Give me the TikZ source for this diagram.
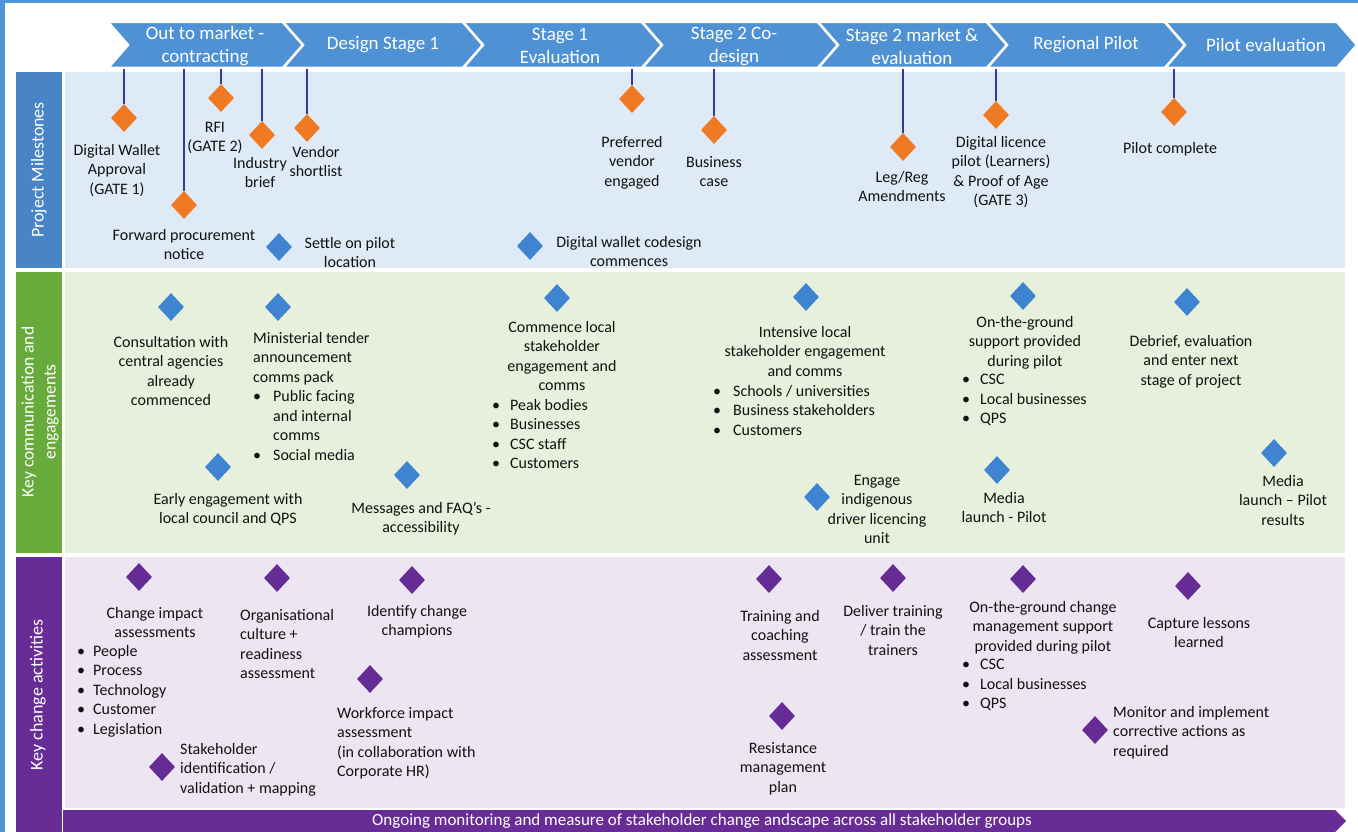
\documentclass[tikz,border=0pt]{standalone}
\usepackage{fontspec}
\setmainfont{Carlito}
\usetikzlibrary{shapes.geometric}
\pgfdeclarelayer{lanelayer}
\pgfdeclarelayer{edgelayer}
\pgfdeclarelayer{nodelayer}
\pgfsetlayers{lanelayer,edgelayer,nodelayer,main}
\definecolor{frameblue}{RGB}{79,148,214}
\definecolor{chevblue}{RGB}{78,145,212}
\definecolor{msstrip}{RGB}{72,132,198}
\definecolor{commstrip}{RGB}{104,170,60}
\definecolor{chgstrip}{RGB}{104,44,150}
\definecolor{mslane}{RGB}{222,234,246}
\definecolor{commlane}{RGB}{231,240,220}
\definecolor{chglane}{RGB}{237,229,242}
\definecolor{msorange}{RGB}{240,122,36}
\definecolor{commblue}{RGB}{62,132,208}
\definecolor{chgpurple}{RGB}{102,44,150}
\definecolor{linenavy}{RGB}{52,58,150}
\definecolor{textgray}{RGB}{18,18,18}
\tikzstyle{orangevertex}=[diamond, fill=msorange, inner sep=0pt, minimum width=26pt, minimum height=28pt]
\tikzstyle{bluevertex}=[diamond, fill=commblue, inner sep=0pt, minimum width=26pt, minimum height=28pt]
\tikzstyle{purplevertex}=[diamond, fill=chgpurple, inner sep=0pt, minimum width=26pt, minimum height=28pt]
\tikzstyle{stemedge}=[draw=linenavy, line width=2pt]
\tikzstyle{txt}=[font=\fontsize{16}{19.5}\selectfont, text=textgray, align=center, inner sep=0pt, anchor=north]
\tikzstyle{txtleft}=[txt, align=left, anchor=north west]
\tikzstyle{chevron}=[fill=chevblue, draw=white, line width=2.5pt, line join=miter]
\tikzstyle{phase}=[font=\fontsize{19}{23}\selectfont, text=white, align=center, inner sep=0pt]
\tikzstyle{lanetitle}=[font=\fontsize{18}{22}\selectfont, text=white, align=center, inner sep=0pt, rotate=90]
\newcommand{\bul}{\makebox[18pt][l]{\textbullet}}
\newcommand{\bsp}{\hspace*{18pt}}

\begin{document}
\begin{tikzpicture}[x=1pt, y=-1pt]
	\useasboundingbox (0,0) rectangle (1358,832);
	\begin{pgfonlayer}{lanelayer}

	%frame
		\fill[frameblue] (0,0) rectangle (1358,3);
		\fill[frameblue] (0,0) rectangle (5,832);

	%lanes
		\fill[msstrip] (16,72) rectangle (62,268);
		\fill[commstrip] (16,272) rectangle (62,553);
		\fill[chgstrip] (16,557) rectangle (62,832);
		\fill[mslane] (65,72) rectangle (1345,268);
		\fill[commlane] (65,272) rectangle (1345,553);
		\fill[chglane] (65,557) rectangle (1345,808);
		\fill[chgstrip] (63,810) -- (1335,810) -- (1346,821) -- (1335,832) -- (63,832) -- cycle;

	%phases
		\draw[chevron] (108,22) -- (283,22) -- (303,45) -- (283,68) -- (108,68) -- (128,45) -- cycle;
		\draw[chevron] (283,22) -- (463,22) -- (483,45) -- (463,68) -- (283,68) -- (303,45) -- cycle;
		\draw[chevron] (463,22) -- (642,22) -- (662,45) -- (642,68) -- (463,68) -- (483,45) -- cycle;
		\draw[chevron] (642,22) -- (818,22) -- (838,45) -- (818,68) -- (642,68) -- (662,45) -- cycle;
		\draw[chevron] (818,22) -- (987,22) -- (1007,45) -- (987,68) -- (818,68) -- (838,45) -- cycle;
		\draw[chevron] (987,22) -- (1165,22) -- (1185,45) -- (1165,68) -- (987,68) -- (1007,45) -- cycle;
		\draw[chevron] (1165,22) -- (1337,22) -- (1357,45) -- (1337,68) -- (1165,68) -- (1185,45) -- cycle;

	\end{pgfonlayer}
	\begin{pgfonlayer}{nodelayer}

	%phase names
		\node [style=phase] (ph1) at (205,46) {Out to market -\\contracting};
		\node [style=phase] (ph2) at (383,45) {Design Stage 1};
		\node [style=phase] (ph3) at (560,46) {Stage 1\\Evaluation};
		\node [style=phase] (ph4) at (734,46) {Stage 2 Co-\\design};
		\node [style=phase] (ph5) at (912,46) {Stage 2 market \&\\evaluation};
		\node [style=phase] (ph6) at (1086,45) {Regional Pilot};
		\node [style=phase] (ph7) at (1266,45) {Pilot evaluation};

	%lane titles
		\node [style=lanetitle] (lane1) at (39,170) {Project Milestones};
		\node [style=lanetitle, font=\fontsize{17.5}{22}\selectfont] (lane2) at (40,412) {Key communication and\\engagements};
		\node [style=lanetitle] (lane3) at (38,695) {Key change activities};
		\node [font=\fontsize{17}{20}\selectfont, text=white, inner sep=0pt] (bar) at (702,821) {Ongoing monitoring and measure of stakeholder change andscape across all stakeholder groups};

	%milestones
		\coordinate (t1) at (124,69);
		\coordinate (t2) at (221,69);
		\coordinate (t3) at (184,69);
		\coordinate (t4) at (262,69);
		\coordinate (t5) at (307,69);
		\coordinate (t6) at (632,69);
		\coordinate (t7) at (714,69);
		\coordinate (t8) at (903,69);
		\coordinate (t9) at (996,69);
		\coordinate (t10) at (1174,69);
		\node [style=orangevertex] (m1) at (124,118) {};
		\node [style=orangevertex] (m2) at (221,98) {};
		\node [style=orangevertex] (m3) at (184,205) {};
		\node [style=orangevertex] (m4) at (262,135) {};
		\node [style=orangevertex] (m5) at (307,128) {};
		\node [style=orangevertex] (m6) at (632,99) {};
		\node [style=orangevertex] (m7) at (714,130) {};
		\node [style=orangevertex] (m8) at (903,147) {};
		\node [style=orangevertex] (m9) at (996,115) {};
		\node [style=orangevertex] (m10) at (1174,112) {};
		\node [style=bluevertex] (m11) at (279,247) {};
		\node [style=bluevertex] (m12) at (530,246) {};
		\node [style=txt] (ml1) at (117,144) {Digital Wallet\\Approval\\(GATE 1)};
		\node [style=txt] (ml2) at (215,122) {RFI\\(GATE 2)};
		\node [style=txt] (ml3) at (184,229) {Forward procurement\\notice};
		\node [style=txt] (ml4) at (260,157) {Industry\\brief};
		\node [style=txt] (ml5) at (316,146) {Vendor\\shortlist};
		\node [style=txt] (ml6) at (632,136) {Preferred\\vendor\\engaged};
		\node [style=txt] (ml7) at (714,156) {Business\\case};
		\node [style=txt] (ml8) at (902,171) {Leg/Reg\\Amendments};
		\node [style=txt] (ml9) at (1001,136) {Digital licence\\pilot (Learners)\\\& Proof of Age\\(GATE 3)};
		\node [style=txt] (ml10) at (1170,142) {Pilot complete};
		\node [style=txt] (ml11) at (350,237) {Settle on pilot\\location};
		\node [style=txt] (ml12) at (629,236) {Digital wallet codesign\\commences};

	%communication
		\node [style=bluevertex] (c1) at (171,307) {};
		\node [style=bluevertex] (c2) at (278,307) {};
		\node [style=bluevertex] (c3) at (218,467) {};
		\node [style=bluevertex] (c4) at (407,475) {};
		\node [style=bluevertex] (c5) at (557,298) {};
		\node [style=bluevertex] (c6) at (806,297) {};
		\node [style=bluevertex] (c7) at (817,497) {};
		\node [style=bluevertex] (c8) at (1023,296) {};
		\node [style=bluevertex] (c9) at (997,470) {};
		\node [style=bluevertex] (c10) at (1187,302) {};
		\node [style=bluevertex] (c11) at (1274,453) {};
		\node [style=txt] (cl1) at (171,336) {Consultation with\\central agencies\\already\\commenced};
		\node [style=txtleft] (cl2) at (253,332) {Ministerial tender\\announcement\\comms pack\\\makebox[20pt][l]{\textbullet}Public facing\\\hspace*{20pt}and internal\\\hspace*{20pt}comms\\\makebox[20pt][l]{\textbullet}Social media};
		\node [style=txt] (cl3) at (228,493) {Early engagement with\\local council and QPS};
		\node [style=txt] (cl4) at (421,502) {Messages and FAQ’s -\\accessibility};
		\node [style=txt] (cl5) at (562,321) {Commence local\\stakeholder\\engagement and\\comms};
		\node [style=txtleft] (cb5) at (492,399) {\bul Peak bodies\\\bul Businesses\\\bul CSC staff\\\bul Customers};
		\node [style=txt] (cl6) at (805,326) {Intensive local\\stakeholder engagement\\and comms};
		\node [style=txtleft] (cb6) at (713,385) {\makebox[20pt][l]{\textbullet}Schools / universities\\\makebox[20pt][l]{\textbullet}Business stakeholders\\\makebox[20pt][l]{\textbullet}Customers};
		\node [style=txt] (cl7) at (877,475) {Engage\\indigenous\\driver licencing\\unit};
		\node [style=txt] (cl8) at (1025,316) {On-the-ground\\support provided\\during pilot};
		\node [style=txtleft] (cb8) at (962,374) {\bul CSC\\\bul Local businesses\\\bul QPS};
		\node [style=txt] (cl9) at (1004,492) {Media\\launch - Pilot};
		\node [style=txt] (cl10) at (1191,335) {Debrief, evaluation\\and enter next\\stage of project};
		\node [style=txt] (cl11) at (1283,475) {Media\\launch – Pilot\\results};

	%change activities
		\node [style=purplevertex] (k1) at (139,577) {};
		\node [style=purplevertex] (k2) at (277,578) {};
		\node [style=purplevertex] (k3) at (412,580) {};
		\node [style=purplevertex] (k4) at (370,679) {};
		\node [style=purplevertex] (k5) at (162,767) {};
		\node [style=purplevertex] (k6) at (769,579) {};
		\node [style=purplevertex] (k7) at (782,716) {};
		\node [style=purplevertex] (k8) at (893,578) {};
		\node [style=purplevertex] (k9) at (1023,579) {};
		\node [style=purplevertex] (k10) at (1188,586) {};
		\node [style=purplevertex] (k11) at (1095,730) {};
		\node [style=txt] (kl1) at (155,607) {Change impact\\assessments};
		\node [style=txtleft] (kb1) at (77,645) {\makebox[16pt][l]{\textbullet}People\\\makebox[16pt][l]{\textbullet}Process\\\makebox[16pt][l]{\textbullet}Technology\\\makebox[16pt][l]{\textbullet}Customer\\\makebox[16pt][l]{\textbullet}Legislation};
		\node [style=txtleft] (kl2) at (240,609) {Organisational\\culture +\\readiness\\assessment};
		\node [style=txt] (kl3) at (417,605) {Identify change\\champions};
		\node [style=txtleft] (kl4) at (337,707) {Workforce impact\\assessment\\(in collaboration with\\Corporate HR)};
		\node [style=txtleft] (kl5) at (180,743) {Stakeholder\\identification /\\validation + mapping};
		\node [style=txt] (kl6) at (780,610) {Training and\\coaching\\assessment};
		\node [style=txt] (kl7) at (783,742) {Resistance\\management\\plan};
		\node [style=txt] (kl8) at (893,605) {Deliver training\\/ train the\\trainers};
		\node [style=txt] (kl9) at (1043,601) {On-the-ground change\\management support\\provided during pilot};
		\node [style=txtleft] (kb9) at (962,659) {\bul CSC\\\bul Local businesses\\\bul QPS};
		\node [style=txt] (kl10) at (1199,617) {Capture lessons\\learned};
		\node [style=txtleft] (kl11) at (1113,706) {Monitor and implement\\corrective actions as\\required};

	\end{pgfonlayer}
	\begin{pgfonlayer}{edgelayer}

	%milestone stems
		\draw [style=stemedge] (t1) to (m1);
		\draw [style=stemedge] (t2) to (m2);
		\draw [style=stemedge] (t3) to (m3);
		\draw [style=stemedge] (t4) to (m4);
		\draw [style=stemedge] (t5) to (m5);
		\draw [style=stemedge] (t6) to (m6);
		\draw [style=stemedge] (t7) to (m7);
		\draw [style=stemedge] (t8) to (m8);
		\draw [style=stemedge] (t9) to (m9);
		\draw [style=stemedge] (t10) to (m10);

	\end{pgfonlayer}
\end{tikzpicture}
\end{document}
